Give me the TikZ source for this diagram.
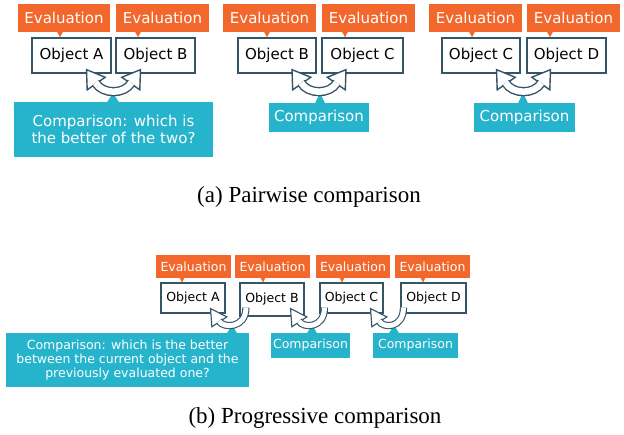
\documentclass[tikz,border=0pt]{standalone}
\usepackage{fontspec}
\setmainfont{DejaVu Sans}
\newfontfamily\capfont{Liberation Serif}
\usetikzlibrary{calc}
\definecolor{evalorange}{RGB}{242,104,44}
\definecolor{compteal}{RGB}{38,180,204}
\definecolor{objborder}{RGB}{52,84,104}
\tikzset{
  bigtext/.style={font=\fontsize{15}{17}\selectfont},
  smalltext/.style={font=\fontsize{12.5}{14}\selectfont},
  evalbox/.style={fill=evalorange, text=white, inner sep=0pt},
  objbox/.style={draw=objborder, fill=white, text=black, inner sep=0pt},
  compbox/.style={fill=compteal, text=white, inner sep=0pt, align=center},
  evaltip/.style={fill=evalorange},
  comptip/.style={fill=compteal},
  headshape/.style={draw=objborder, fill=white, line join=miter},
  bandline/.style={draw=objborder, double=white},
  captext/.style={font=\capfont\fontsize{23}{27}\selectfont, inner sep=0pt},
}
% pointer under an evaluation box: node, x offset, half width, height
\newcommand\evalptr[4]{\fill[evaltip] ($(#1.south)+({#2-#3},-0.5)$) -- ++({2*#3},0) -- ++({-#3},{#4+0.5}) -- cycle;}
% pointer above a comparison box
\newcommand\compptr[4]{\fill[comptip] ($(#1.north)+({#2-#3},0.5)$) -- ++({2*#3},0) -- ++({-#3},{-#4-0.5}) -- cycle;}
% double headed block arrow between two boxes
\newcommand\toparrow[2]{%
  \coordinate (#1#2mid) at ($(#1.south east)!0.5!(#2.south west)$);
  \draw[headshape, line width=1.4pt] ($(#1#2mid)+(-27,-4)$) -- ($(#1#2mid)+(-8.3,3.6)$) -- ($(#1#2mid)+(-26.3,16.2)$) -- cycle;
  \draw[headshape, line width=1.4pt] ($(#1#2mid)+(27,-4)$) -- ($(#1#2mid)+(8.3,3.6)$) -- ($(#1#2mid)+(26.3,16.2)$) -- cycle;
  \draw[bandline, line width=1.4pt, double distance=6.5pt] ($(#1#2mid)+(-17.9,9.1)$) .. controls ($(#1#2mid)+(-11,21)$) and ($(#1#2mid)+(11,21)$) .. ($(#1#2mid)+(17.9,9.1)$);
}
% single headed block arrow: left node, right node, tip offset, tail offset
\newcommand\botarrow[4]{%
  \coordinate (#1#2tip) at ($(#1.east |- oA.south)+({-#3},-5)$);
  \coordinate (#1#2tail) at ($(#2.west |- oA.south)+(#4,0)$);
  \draw[headshape, line width=1.1pt] (#1#2tip) -- ($(#1#2tip)+(16.3,8.35)$) -- ($(#1#2tip)+(1.3,18.25)$) -- cycle;
  \draw[bandline, line width=1.1pt, double distance=5pt] ($(#1#2tip)+(8.3,12.5)$) .. controls ($(#1#2tip)+(13,20)$) and ($(#1#2tail)+(0,15)$) .. ($(#1#2tail)+(0,-6)$);
}
\begin{document}
\begin{tikzpicture}[x=1pt,y=-1pt]
\useasboundingbox[fill=white] (0,0) rectangle (624,434);

% ---------- (a) pairwise ----------
\node[evalbox, bigtext, minimum width=92pt, minimum height=28pt] (e1a) at (64,18) {Evaluation};
\node[evalbox, bigtext, minimum width=93pt, minimum height=28pt] (e1b) at (162.5,18) {Evaluation};
\node[evalbox, bigtext, minimum width=93pt, minimum height=28pt] (e2a) at (269.5,18) {Evaluation};
\node[evalbox, bigtext, minimum width=93pt, minimum height=28pt] (e2b) at (368.5,18) {Evaluation};
\node[evalbox, bigtext, minimum width=93pt, minimum height=28pt] (e3a) at (475.5,18) {Evaluation};
\node[evalbox, bigtext, minimum width=93pt, minimum height=28pt] (e3b) at (573.5,18) {Evaluation};
\evalptr{e1a}{-4}{3}{5}
\evalptr{e1b}{-24.5}{3}{5}
\evalptr{e2a}{-2.5}{3}{5}
\evalptr{e2b}{-23.5}{3}{5}
\evalptr{e3a}{-3.5}{3}{5}
\evalptr{e3b}{-23.5}{3}{5}

\node[objbox, bigtext, line width=1.3pt, minimum width=79pt, minimum height=35pt] (o1a) at (71.5,55.5) {Object A};
\node[objbox, bigtext, line width=1.3pt, minimum width=79pt, minimum height=35pt] (o1b) at (155.5,55.5) {Object B};
\node[objbox, bigtext, line width=1.3pt, minimum width=78pt, minimum height=35pt] (o2a) at (277,55.5) {Object B};
\node[objbox, bigtext, line width=1.3pt, minimum width=81pt, minimum height=35pt] (o2b) at (362.5,55.5) {Object C};
\node[objbox, bigtext, line width=1.3pt, minimum width=78pt, minimum height=35pt] (o3a) at (481,55.5) {Object C};
\node[objbox, bigtext, line width=1.3pt, minimum width=79pt, minimum height=35pt] (o3b) at (566.5,55.5) {Object D};

\node[compbox, bigtext, minimum width=199pt, minimum height=55pt] (c1) at (113.5,129.5) {Comparison: which is\\the better of the two?};
\node[compbox, bigtext, minimum width=100pt, minimum height=29pt] (c2) at (319,117.5) {Comparison};
\node[compbox, bigtext, minimum width=101pt, minimum height=29pt] (c3) at (524.5,117.5) {Comparison};
\compptr{c1}{-0.5}{6}{9}
\compptr{c2}{1}{5}{10}
\compptr{c3}{-1.5}{5}{10}

\toparrow{o1a}{o1b}
\toparrow{o2a}{o2b}
\toparrow{o3a}{o3b}

\node[captext] (capa) at (309,197) {(a) Pairwise comparison};

% ---------- (b) progressive ----------
\node[evalbox, smalltext, minimum width=75pt, minimum height=23pt] (eA) at (193.5,266.5) {Evaluation};
\node[evalbox, smalltext, minimum width=75pt, minimum height=23pt] (eB) at (272.5,266.5) {Evaluation};
\node[evalbox, smalltext, minimum width=74pt, minimum height=23pt] (eC) at (353,266.5) {Evaluation};
\node[evalbox, smalltext, minimum width=75pt, minimum height=23pt] (eD) at (432.5,266.5) {Evaluation};
\evalptr{eA}{-11.5}{2.5}{4.5}
\evalptr{eB}{-9.5}{2.5}{4.5}
\evalptr{eC}{-11}{2.5}{4.5}
\evalptr{eD}{-9.5}{2.5}{4.5}

\node[objbox, smalltext, line width=1.1pt, minimum width=64pt, minimum height=30pt] (oA) at (193,298) {Object A};
\node[objbox, smalltext, line width=1.1pt, minimum width=64pt, minimum height=33pt] (oB) at (272,299.5) {Object B};
\node[objbox, smalltext, line width=1.1pt, minimum width=63pt, minimum height=30pt] (oC) at (351.5,298) {Object C};
\node[objbox, smalltext, line width=1.1pt, minimum width=65pt, minimum height=30pt] (oD) at (433.5,298) {Object D};

\node[compbox, smalltext, minimum width=243pt, minimum height=54pt] (cA) at (127.5,360) {Comparison: which is the better\\between the current object and the\\previously evaluated one?};
\node[compbox, smalltext, minimum width=79pt, minimum height=25pt] (cB) at (310.5,345.5) {Comparison};
\node[compbox, smalltext, minimum width=85pt, minimum height=25pt] (cC) at (415.5,345.5) {Comparison};
\compptr{cA}{104.5}{5}{8}
\compptr{cB}{1.5}{5}{8}
\compptr{cC}{-21.5}{5}{8}

\botarrow{oA}{oB}{15}{6.5}
\botarrow{oB}{oC}{14}{5}
\botarrow{oC}{oD}{13}{3}

\node[captext] (capb) at (315,418) {(b) Progressive comparison};
\end{tikzpicture}
\end{document}
